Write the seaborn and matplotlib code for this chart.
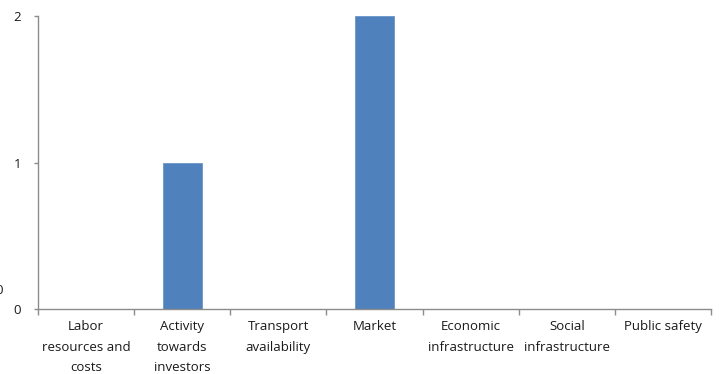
import matplotlib
matplotlib.use("Agg")
import matplotlib.pyplot as plt
import seaborn as sns
import numpy as np
import pandas as pd

categories = [
    "Labor\nresources and\ncosts",
    "Activity\ntowards\ninvestors",
    "Transport\navailability",
    "Market",
    "Economic\ninfrastructure",
    "Social\ninfrastructure",
    "Public safety",
]
values = [0, 1, 0, 2, 0, 0, 0]
y_ticks = [0, 1, 2]

sns.set_theme(style="white")
plt.rcParams["font.family"] = ["Open Sans", "DejaVu Sans"]

df = pd.DataFrame({"factor": categories, "count": values})

fig = plt.figure(figsize=(7.19, 3.74), dpi=100)
ax = fig.add_axes([38 / 719, 1 - 309 / 374, (711 - 38) / 719, (309 - 16) / 374])

sns.barplot(data=df, x="factor", y="count", color="#4F81BD", width=0.41,
            saturation=1, edgecolor="#6A95C9", linewidth=0.6, ax=ax)

axis_gray = "#8C8C8C"
ax.set_xlim(-0.5, len(categories) - 0.5)
ax.set_ylim(0, 2)
ax.set_xlabel("")
ax.set_ylabel("")

for side in ["top", "right"]:
    ax.spines[side].set_visible(False)
for side in ["left", "bottom"]:
    ax.spines[side].set_color(axis_gray)
    ax.spines[side].set_linewidth(1.0)

# Boundary ticks on the category axis, labels centred under each bar
ax.set_xticks(np.arange(-0.5, len(categories), 1.0))
ax.set_xticklabels([])
ax.set_xticks(np.arange(len(categories)), minor=True)
ax.set_xticklabels(categories, minor=True, fontsize=9.5, color="#1a1a1a",
                   linespacing=1.75, va="top")
ax.tick_params(axis="x", which="major", direction="out", length=4,
               color=axis_gray, width=1, bottom=True)
ax.tick_params(axis="x", which="minor", length=0, pad=8)

ax.set_yticks(y_ticks)
ax.set_yticklabels([str(t) for t in y_ticks], fontsize=9.5, color="#1a1a1a")
ax.tick_params(axis="y", direction="out", length=3, color=axis_gray,
               width=1, left=True, pad=9)

ax.grid(False)

# stray axis value partly cut off at the left edge
fig.text(-0.006, 1 - 291 / 374, "0", fontsize=9.5, color="#1a1a1a",
         ha="left", va="center")

fig.savefig("out.png", dpi=100)
